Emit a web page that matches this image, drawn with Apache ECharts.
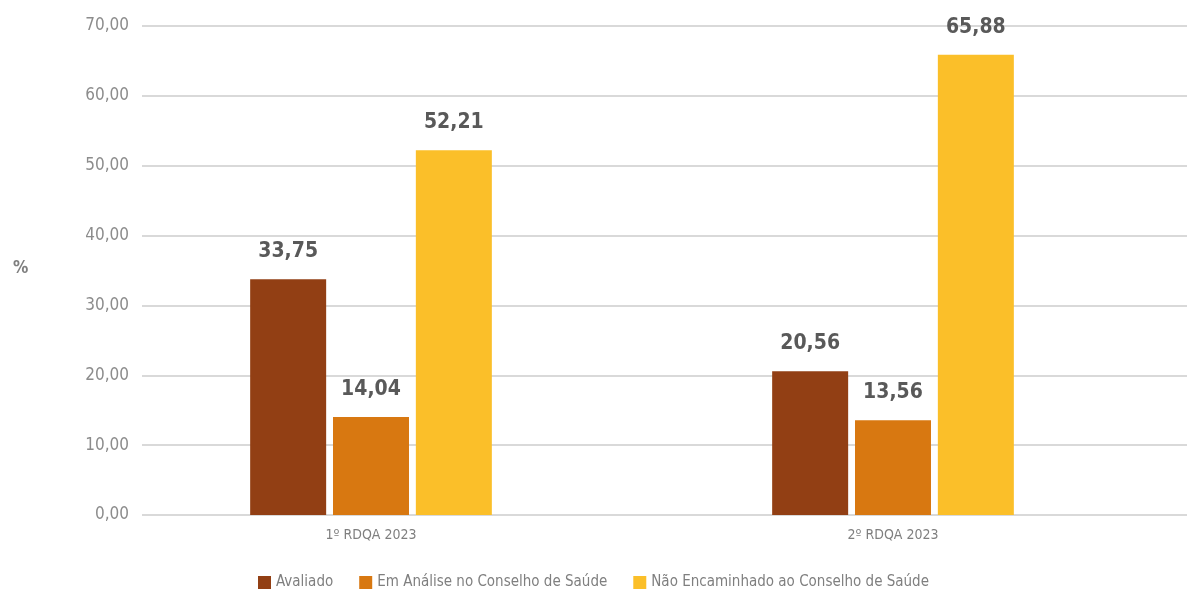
<!DOCTYPE html>
<html>
<head>
<meta charset="utf-8">
<script src="https://cdn.jsdelivr.net/npm/echarts@6/dist/echarts.min.js"></script>
<style>
  html, body { margin: 0; padding: 0; background: #fff; }
  #chart { width: 1187px; height: 589px; }
</style>
</head>
<body>
<div id="chart"></div>
<script>
// dados do gráfico
const categories = ["1º RDQA 2023", "2º RDQA 2023"];
const avaliado = [33.75, 20.56];
const emAnalise = [14.04, 13.56];
const naoEncaminhado = [52.21, 65.88];
const seriesNames = ["Avaliado", "Em Análise no Conselho de Saúde", "Não Encaminhado ao Conselho de Saúde"];
const yMin = 0, yMax = 70, yStep = 10;

const FONT = "'Liberation Sans Narrow', 'DejaVu Sans Condensed', 'Roboto Condensed', sans-serif";
const fmt = v => Number(v).toFixed(2).replace(".", ",");

let chart = echarts.init(document.getElementById("chart"), null, { width: 1187, height: 589 });

function barSerie(name, data, color) {
  return {
    name: name,
    type: "bar",
    xAxisIndex: 0,
    yAxisIndex: 0,
    data: data,
    barWidth: 76,
    barGap: "9%",
    itemStyle: { color: color },
    label: {
      show: true,
      position: "top",
      distance: 17,
      formatter: p => fmt(p.value),
      color: "#595959",
      fontFamily: FONT,
      fontSize: 21,
      fontWeight: "bold"
    }
  };
}

let option = {
  animation: false,
  textStyle: { fontFamily: FONT },
  grid: [
    { left: 110, right: 33, top: 26, bottom: 74 },
    { left: 142, right: 0, top: 26, bottom: 74 }
  ],
  legend: {
    data: seriesNames,
    left: "center",
    top: 570,
    itemWidth: 13,
    itemHeight: 13,
    itemGap: 26,
    icon: "rect",
    textStyle: { color: "#7f7f7f", fontFamily: FONT, fontSize: 15 }
  },
  graphic: [
    {
      type: "text",
      left: 13,
      top: 260,
      style: { text: "%", fill: "#7f7f7f", font: "bold 17px " + FONT }
    }
  ],
  xAxis: [
    {
      type: "category",
      gridIndex: 0,
      data: categories,
      axisLine: { show: false },
      axisTick: { show: false },
      axisLabel: { color: "#7f7f7f", fontFamily: FONT, fontSize: 14, margin: 13 }
    },
    {
      type: "value",
      gridIndex: 1,
      show: false
    }
  ],
  yAxis: [
    {
      type: "value",
      gridIndex: 0,
      min: yMin, max: yMax, interval: yStep,
      show: false,
      splitLine: { show: false }
    },
    {
      type: "value",
      gridIndex: 1,
      min: yMin, max: yMax, interval: yStep,
      axisLine: { show: false },
      axisTick: { show: false },
      axisLabel: {
        formatter: v => fmt(v),
        color: "#8c8c8c",
        fontFamily: FONT,
        fontSize: 17,
        margin: 13
      },
      splitLine: { lineStyle: { color: "#d9d9d9", width: 2 } }
    }
  ],
  series: [
    barSerie(seriesNames[0], avaliado, "#923F14"),
    barSerie(seriesNames[1], emAnalise, "#D87811"),
    barSerie(seriesNames[2], naoEncaminhado, "#FBBF29")
  ]
};
chart.setOption(option);
</script>
</body>
</html>
